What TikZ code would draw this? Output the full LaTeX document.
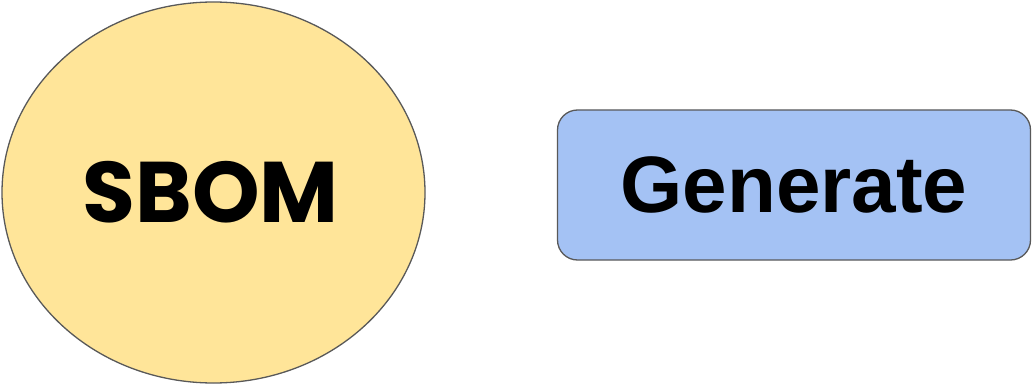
\documentclass[tikz,border=0pt]{standalone}
\usepackage{fontspec}
\setmainfont{Liberation Sans}
\newfontfamily\popfont{Poppins}
\usetikzlibrary{shapes.geometric}
\definecolor{sbomfill}{HTML}{FFE599}
\definecolor{genfill}{HTML}{A4C2F4}
\definecolor{edgegray}{HTML}{595959}
\tikzset{
  sbomshape/.style={ellipse, draw=edgegray, fill=sbomfill, line width=1.3pt, inner sep=0pt,
    minimum width=423pt, minimum height=381pt},
  genbox/.style={rectangle, rounded corners=20pt, draw=edgegray, fill=genfill, line width=1.3pt,
    inner sep=0pt, minimum width=473pt, minimum height=150pt},
}
\begin{document}
\begin{tikzpicture}[x=1pt,y=-1pt]
\useasboundingbox (0,0) rectangle (1032,385);
\node[sbomshape] (sbom) at (213.5,192.5) {};
\node[genbox] (gen) at (794,185) {};
\node (sbomtext) at ([xshift=-3pt]sbom.center) {\popfont\bfseries\fontsize{86}{90}\selectfont SBOM};
\node (gentext) at (gen.center) {\bfseries\fontsize{80}{84}\selectfont Generate};
\end{tikzpicture}
\end{document}
